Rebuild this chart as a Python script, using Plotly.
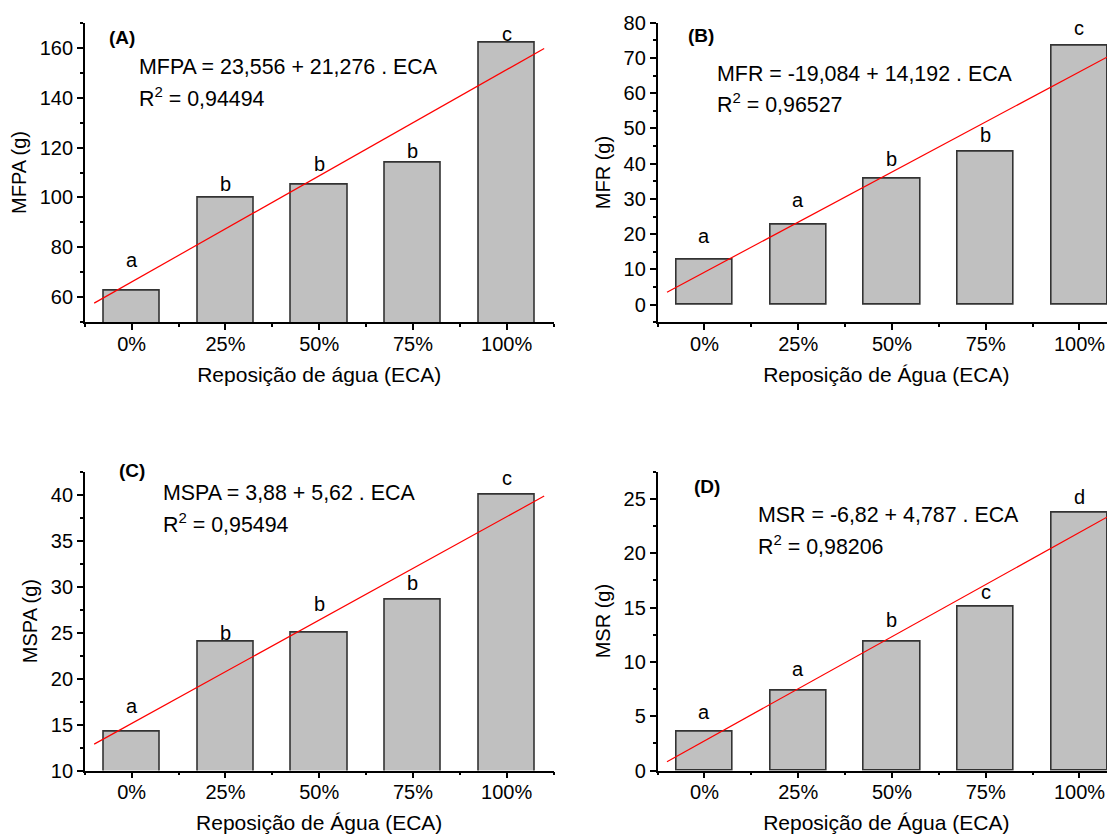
import numpy as np
import plotly.graph_objects as go

# ---------------- data ----------------
categories = ["0%", "25%", "50%", "75%", "100%"]

mfpa = [62.6, 99.8, 105.3, 113.9, 161.8]
mfr = [12.8, 22.8, 35.7, 43.3, 73.6]
mspa = [14.2, 24.0, 25.0, 28.6, 40.0]
msr = [3.6, 7.35, 11.85, 15.1, 23.7]

letters_a = ["a", "b", "b", "b", "c"]
letters_b = ["a", "a", "b", "b", "c"]
letters_c = ["a", "b", "b", "b", "c"]
letters_d = ["a", "a", "b", "c", "d"]

panel_labels = ["(A)", "(B)", "(C)", "(D)"]
equations = [
    "MFPA = 23,556 + 21,276 . ECA",
    "MFR = -19,084 + 14,192 . ECA",
    "MSPA = 3,88 + 5,62 . ECA",
    "MSR = -6,82 + 4,787 . ECA",
]
r2_values = ["0,94494", "0,96527", "0,95494", "0,98206"]
y_titles = ["MFPA (g)", "MFR (g)", "MSPA (g)", "MSR (g)"]
x_titles = ["Reposição de água (ECA)", "Reposição de Água (ECA)",
            "Reposição de Água (ECA)", "Reposição de Água (ECA)"]

# ---------------- layout helpers ----------------
PAGE_W, PAGE_H = 1115, 836
OFF = 8  # default page (body) margin of the html page
W, H = PAGE_W - OFF, PAGE_H - OFF
FONT = "Liberation Sans, Arial, sans-serif"


def px(x):
    return (x - OFF) / W


def py(y):
    return 1 - (y - OFF) / H


# panel boxes in page pixels: (left, right, top, bottom)
boxes = [
    (84.8, 553.6, 22.7, 322.3),
    (657.6, 1115.0, 22.7, 322.3),
    (84.8, 553.6, 471.7, 770.5),
    (657.6, 1115.0, 471.7, 770.5),
]
cat_step = 93.75  # px per category
y_ranges = [[50, 170], [-5, 80], [10, 42.5], [0, 27.5]]
y_dticks = [20, 10, 5, 5]

series = [mfpa, mfr, mspa, msr]
letter_sets = [letters_a, letters_b, letters_c, letters_d]
letter_shifts = [
    [31, 14, 20, 12, 9],
    [24, 24, 20, 17, 17],
    [26, 9, 29, 16, 17],
    [19, 22, 22, 14, 16],
]
label_pos = [(107, 37), (686, 35), (117, 470), (692, 486)]
eq_pos = [(137, 67, 97), (715, 74, 103), (161, 493, 523), (756, 515, 545)]

fig = go.Figure()
annotations = []
xpos = np.arange(len(categories))

for k in range(4):
    ax = "" if k == 0 else str(k + 1)
    xa, ya = "x" + ax, "y" + ax
    vals = series[k]
    fig.add_trace(go.Bar(
        x=xpos, y=vals, width=0.6, xaxis=xa, yaxis=ya,
        marker=dict(color="#c0c0c0", line=dict(color="#333333", width=1.6)),
        showlegend=False,
    ))
    slope, intercept = np.polyfit(xpos, vals, 1)
    xl = np.array([xpos[0] - 0.4, xpos[-1] + 0.4])
    fig.add_trace(go.Scatter(
        x=xl, y=intercept + slope * xl, mode="lines", xaxis=xa, yaxis=ya,
        line=dict(color="#ff0000", width=1.2), showlegend=False,
    ))
    for i, (v, t) in enumerate(zip(vals, letter_sets[k])):
        annotations.append(dict(
            x=i, y=v, xref=xa, yref=ya, text=t, showarrow=False,
            yanchor="middle", xanchor="center", yshift=letter_shifts[k][i],
            font=dict(family=FONT, size=20, color="black"),
        ))
    lx, ly = label_pos[k]
    annotations.append(dict(
        x=px(lx), y=py(ly), xref="paper", yref="paper", text="<b>%s</b>" % panel_labels[k],
        showarrow=False, xanchor="left", yanchor="middle",
        font=dict(family=FONT, size=19, color="black"),
    ))
    ex, ey1, ey2 = eq_pos[k]
    annotations.append(dict(
        x=px(ex), y=py(ey1), xref="paper", yref="paper", text=equations[k],
        showarrow=False, xanchor="left", yanchor="middle",
        font=dict(family=FONT, size=21.4, color="black"),
    ))
    annotations.append(dict(
        x=px(ex), y=py(ey2), xref="paper", yref="paper",
        text="R<sup>2</sup> = " + r2_values[k],
        showarrow=False, xanchor="left", yanchor="middle",
        font=dict(family=FONT, size=21.4, color="black"),
    ))

    left, right, top, bottom = boxes[k]
    x_hi = -0.5 + (right - left) / cat_step
    axis_common = dict(
        showline=True, linecolor="black", linewidth=1.5,
        ticks="outside", ticklen=6, tickwidth=1.5, tickcolor="black",
        showgrid=False, zeroline=False, automargin=False,
        tickfont=dict(family=FONT, size=20, color="black"),
    )
    fig.update_layout(**{
        "xaxis" + ax: dict(
            domain=[px(left), px(right)], range=[-0.5, x_hi],
            anchor=ya, tickmode="array", tickvals=list(xpos), ticktext=categories,
            ticklabelstandoff=-3,
            minor=dict(tickmode="array", tickvals=[i - 0.5 for i in range(len(categories) + 1)],
                       ticks="outside", ticklen=3, tickwidth=1.5, tickcolor="black"),
            title=dict(text=x_titles[k], standoff=13,
                       font=dict(family=FONT, size=21, color="black")),
            **axis_common,
        ),
        "yaxis" + ax: dict(
            domain=[py(bottom), py(top)], range=y_ranges[k], anchor=xa,
            tick0=0, dtick=y_dticks[k],
            minor=dict(tick0=0, dtick=y_dticks[k] / 2, ticks="outside", ticklen=3,
                       tickwidth=1.5, tickcolor="black"),
            title=dict(text=y_titles[k], standoff=8,
                       font=dict(family=FONT, size=20, color="black")),
            **axis_common,
        ),
    })

fig.update_layout(
    width=W, height=H,
    margin=dict(l=0, r=0, t=0, b=0),
    paper_bgcolor="white", plot_bgcolor="white",
    annotations=annotations,
    bargap=0,
)
fig.write_html("out.html")
